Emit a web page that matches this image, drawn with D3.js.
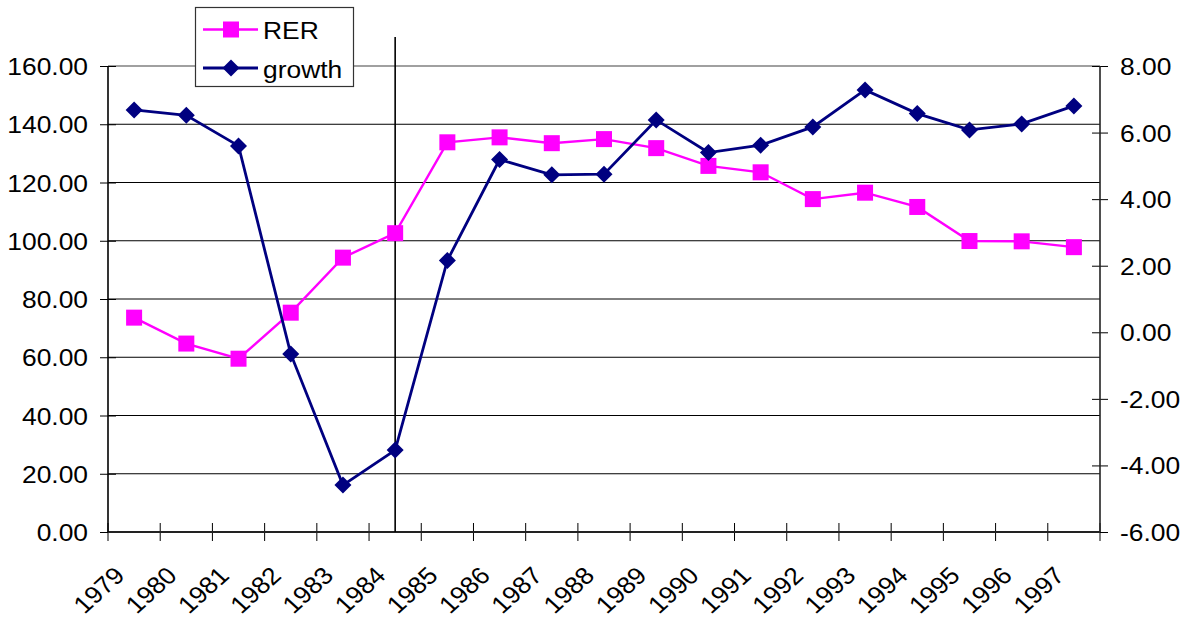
<!DOCTYPE html>
<html>
<head>
<meta charset="utf-8">
<script src="https://cdn.jsdelivr.net/npm/d3@7"></script>
<style>
  html, body { margin: 0; padding: 0; background: #fff; }
  svg { display: block; }
  text { font-family: "Liberation Sans", Arial, sans-serif; font-size: 24px; fill: #000; }
</style>
</head>
<body>
<svg id="chart" width="1188" height="617"></svg>
<script>
const years = ["1979","1980","1981","1982","1983","1984","1985","1986","1987","1988",
               "1989","1990","1991","1992","1993","1994","1995","1996","1997"];
const rer = [73.6, 64.7, 59.5, 75.3, 94.2, 102.6, 133.8, 135.5, 133.5, 134.9,
             131.8, 125.7, 123.5, 114.3, 116.5, 111.6, 99.9, 99.8, 97.8];
const growth = [6.68, 6.52, 5.60, -0.65, -4.59, -3.54, 2.16, 5.19, 4.73, 4.75,
                6.38, 5.40, 5.62, 6.17, 7.28, 6.57, 6.08, 6.26, 6.80];
const leftTicks = [0, 20, 40, 60, 80, 100, 120, 140, 160];
const rightTicks = [-6, -4, -2, 0, 2, 4, 6, 8];
const seriesNames = ["RER", "growth"];
const markYear = "1984";

const pink = "#FF00FF", navy = "#000080";
const SX = 1.1; // horizontal stretch of text as in reference
const svg = d3.select("#chart");
const fmt = v => d3.format(".2f")(v).replace("\u2212", "-");

const x = d3.scaleBand().domain(years).range([108, 1100]).padding(0);
const yL = d3.scaleLinear().domain([0, 160]).range([532, 66]);
const yR = d3.scaleLinear().domain([-6, 8]).range([532, 66]);
const cx = d => x(d) + x.bandwidth() / 2;

// gridlines
svg.append("g").selectAll("line").data(leftTicks.filter(t => t > 0)).join("line")
  .attr("x1", 108).attr("x2", 1100)
  .attr("y1", d => yL(d)).attr("y2", d => yL(d))
  .attr("stroke", d => d === 160 ? "#808080" : "#000")
  .attr("stroke-width", d => d === 160 ? 1.6 : 1);

// left axis
const gL = svg.append("g").attr("transform", "translate(108,0)")
  .call(d3.axisLeft(yL).tickValues(leftTicks).tickFormat(fmt).tickSize(8).tickPadding(0));
gL.select(".domain").remove();
gL.selectAll(".tick line").attr("x1", 8).attr("stroke", "#000");
gL.selectAll(".tick text").attr("x", null).attr("dy", null)
  .attr("font-size", null).attr("font-family", null)
  .attr("text-anchor", "end").attr("dominant-baseline", "central")
  .attr("transform", `translate(-20,0) scale(${SX},1)`);

// right axis
const gR = svg.append("g").attr("transform", "translate(1100,0)")
  .call(d3.axisRight(yR).tickValues(rightTicks).tickFormat(fmt).tickSize(8).tickPadding(0));
gR.select(".domain").remove();
gR.selectAll(".tick line").attr("x1", -8).attr("stroke", "#000");
gR.selectAll(".tick text").attr("x", null).attr("dy", null)
  .attr("font-size", null).attr("font-family", null)
  .attr("text-anchor", "start").attr("dominant-baseline", "central")
  .attr("transform", `translate(20,0) scale(${SX},1)`);

// bottom axis
const gB = svg.append("g").attr("transform", "translate(0,532)")
  .call(d3.axisBottom(x).tickValues([]).tickSize(0));
gB.select(".domain").remove();
const bounds = years.map(d => x(d)).concat([x(years[years.length-1]) + x.bandwidth()]);
gB.selectAll("line.tk").data(bounds).join("line").attr("class", "tk")
  .attr("x1", d => d).attr("x2", d => d).attr("y1", -9).attr("y2", 9)
  .attr("stroke", "#000").attr("stroke-width", 1);
gB.selectAll("text.yl").data(years).join("text").attr("class", "yl")
  .attr("text-anchor", "end")
  .attr("transform", d => `translate(${cx(d) - 8},45) scale(${SX},1) rotate(-45)`)
  .text(d => d);

// axis lines
svg.append("line").attr("x1", 108).attr("x2", 1100).attr("y1", 532).attr("y2", 532)
  .attr("stroke", "#222").attr("stroke-width", 1.8);
svg.append("line").attr("x1", 108).attr("x2", 108).attr("y1", 66).attr("y2", 532)
  .attr("stroke", "#000").attr("stroke-width", 1.6);
svg.append("line").attr("x1", 1100).attr("x2", 1100).attr("y1", 66).attr("y2", 532)
  .attr("stroke", "#222").attr("stroke-width", 1.6);

// vertical marker line
svg.append("line").attr("x1", cx(markYear)).attr("x2", cx(markYear))
  .attr("y1", 37).attr("y2", 532).attr("stroke", "#000").attr("stroke-width", 1.6);

// RER
const lineL = d3.line().x((d, i) => cx(years[i])).y(d => yL(d));
svg.append("path").datum(rer).attr("d", lineL).attr("fill", "none")
  .attr("stroke", pink).attr("stroke-width", 2.4);
const sq = 16;
svg.append("g").selectAll("rect").data(rer).join("rect")
  .attr("x", (d, i) => cx(years[i]) - sq / 2).attr("y", d => yL(d) - sq / 2)
  .attr("width", sq).attr("height", sq).attr("fill", pink);

// growth
const lineR = d3.line().x((d, i) => cx(years[i])).y(d => yR(d));
svg.append("path").datum(growth).attr("d", lineR).attr("fill", "none")
  .attr("stroke", navy).attr("stroke-width", 2.8);
const dm = 8.5;
const diamond = (px, py) => `M${px},${py - dm}L${px + dm},${py}L${px},${py + dm}L${px - dm},${py}Z`;
svg.append("g").selectAll("path").data(growth).join("path")
  .attr("d", (d, i) => diamond(cx(years[i]), yR(d))).attr("fill", navy);

// legend
const lg = svg.append("g");
lg.append("rect").attr("x", 195.5).attr("y", 7.5).attr("width", 158).attr("height", 79)
  .attr("fill", "#fff").attr("stroke", "#333").attr("stroke-width", 1.2);
const rows = [{ name: seriesNames[0], y: 29.5, color: pink, kind: "sq" },
              { name: seriesNames[1], y: 68, color: navy, kind: "dm" }];
rows.forEach(r => {
  lg.append("line").attr("x1", 203).attr("x2", 258).attr("y1", r.y).attr("y2", r.y)
    .attr("stroke", r.color).attr("stroke-width", r.kind === "sq" ? 2.4 : 2.8);
  if (r.kind === "sq") {
    lg.append("rect").attr("x", 231 - sq / 2).attr("y", r.y - sq / 2)
      .attr("width", sq).attr("height", sq).attr("fill", r.color);
  } else {
    lg.append("path").attr("d", diamond(231, r.y)).attr("fill", r.color);
  }
  lg.append("text").attr("transform", `translate(263,${r.y + 1}) scale(${SX},1)`)
    .attr("dominant-baseline", "central").text(r.name);
});
</script>
</body>
</html>
